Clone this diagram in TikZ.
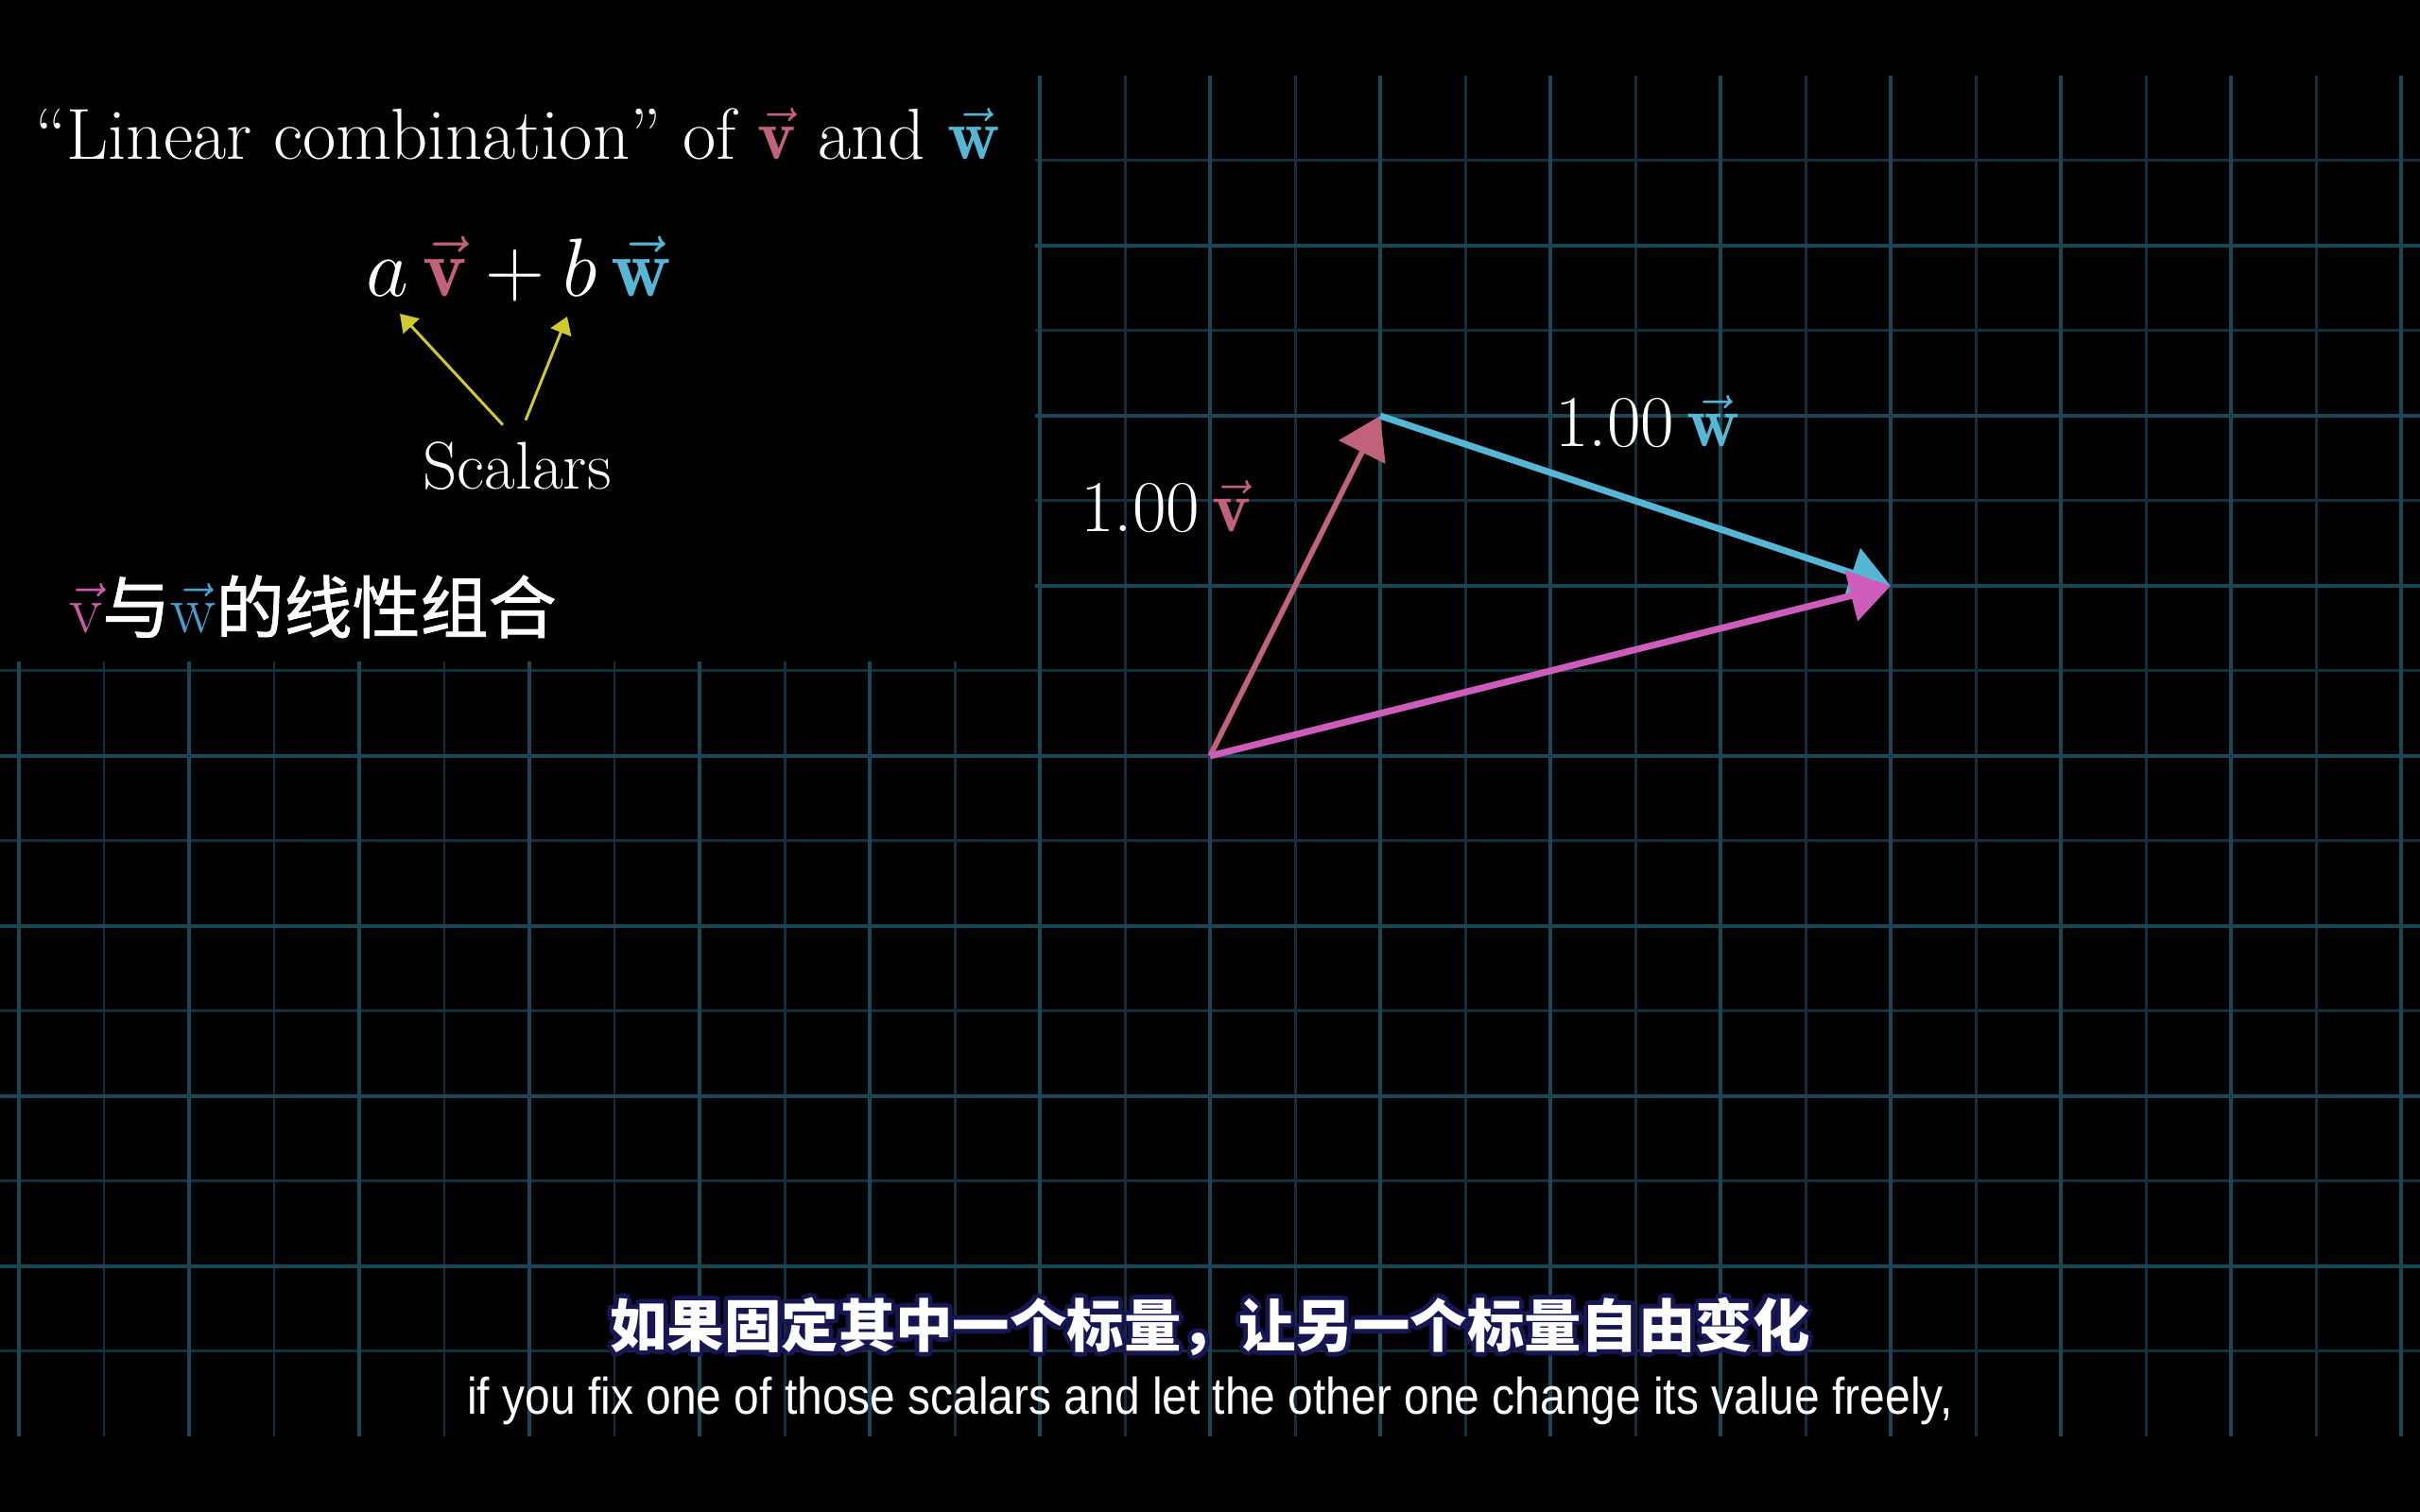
\documentclass[tikz,border=0pt]{standalone}
\usepackage{fontspec}
\usepackage{amsmath}
\usetikzlibrary{arrows.meta,calc}
\newfontfamily\cjk{Noto Sans CJK SC}
\newfontfamily\cjkm[FakeBold=1.2]{Noto Sans CJK SC}
\newfontfamily\subfont{Liberation Sans}
\definecolor{gridmaj}{RGB}{27,70,85}
\definecolor{gridmin}{RGB}{18,49,60}
\definecolor{vcol}{RGB}{193,98,122}
\definecolor{wcol}{RGB}{86,182,214}
\definecolor{scol}{RGB}{206,92,186}
\definecolor{vpink}{RGB}{204,90,172}
\definecolor{wblue}{RGB}{72,158,204}
\definecolor{yarr}{RGB}{208,202,44}
\definecolor{subline}{RGB}{22,22,84}
\newcommand{\vecv}{\textcolor{vcol}{\vec{\mathbf{v}}}}
\newcommand{\vecw}{\textcolor{wcol}{\vec{\mathbf{w}}}}
\newcommand{\subcntext}{如果固定其中一个标量，让另一个标量自由变化}

\begin{document}
\begin{tikzpicture}[line width=0.8pt,
  majline/.style={draw=gridmaj,line width=1.2pt},
  minline/.style={draw=gridmin,line width=0.85pt},
  vecarrow/.style={-{Triangle[length=4.3mm,width=5.4mm]}},
  scalarr/.style={draw=yarr,line width=0.85pt,-{Triangle[length=1.8mm,width=2.3mm]}},
  txt/.style={text=white,inner sep=0pt},
  subcn/.style={inner sep=0pt,font=\cjk\bfseries\fontsize{17.2}{20}\selectfont}]
\useasboundingbox (0,0) rectangle (25.6,16);
\fill[black] (0,0) rectangle (25.6,16);
% ---------- grid: major every 1.8, minor halfway ----------
\begin{scope}
\clip (0,0.8) rectangle (25.6,15.2);
\foreach \i in {-7,...,6}{
  \draw[minline] ({12.8+\i*1.8+0.9},0.8) -- ++(0,14.4);}
\foreach \j in {-4,...,3}{
  \draw[minline] (0,{8+\j*1.8+0.9}) -- ++(25.6,0);}
\foreach \i in {-7,...,7}{
  \draw[majline] ({12.8+\i*1.8},0.8) -- ++(0,14.4);}
\foreach \j in {-3,...,3}{
  \draw[majline] (0,{8+\j*1.8}) -- ++(25.6,0);}
\end{scope}
% ---------- black panel behind the formulas ----------
\fill[black] (0,9.0) rectangle (10.95,15.2);
% ---------- vectors ----------
\coordinate (O) at (12.8,8);
\coordinate (V) at (14.6,11.6);
\coordinate (S) at (20.0,9.8);
\draw[vecarrow,draw=vcol,fill=vcol,line width=1.6pt] (O) -- (V);
\draw[vecarrow,draw=wcol,fill=wcol,line width=2.0pt] (V) -- (S);
\draw[vecarrow,draw=scol,fill=scol,line width=2.0pt] (O) -- (S);
\node[txt,anchor=base west,font=\fontsize{22}{26}\selectfont] (labv) at (11.42,10.37) {1.00\,$\vecv$};
\node[txt,anchor=base west,font=\fontsize{22}{26}\selectfont] (labw) at (16.44,11.27) {1.00\,$\vecw$};
% ---------- formulas, top left ----------
\node[txt,anchor=base west,font=\fontsize{21.8}{26}\selectfont] (title) at (0.36,14.31)
  {``Linear combination'' of $\vecv$ and $\vecw$};
\node[txt,anchor=base,font=\fontsize{25}{30}\selectfont] (combo) at (5.49,12.86)
  {$a\,\vecv+b\,\vecw$};
\node[txt,anchor=base,font=\fontsize{20.3}{24}\selectfont] (scal) at (5.47,10.82) {Scalars};
\coordinate (atip) at (4.23,12.68);
\coordinate (btip) at (6.00,12.65);
\draw[scalarr] ([shift={(-0.15,0.17)}]scal.north) -- (atip);
\draw[scalarr] ([shift={(0.09,0.22)}]scal.north) -- (btip);
\node[txt,anchor=west,font=\cjkm\fontsize{20.5}{24}\selectfont] (cnlab) at (0.72,9.58)
  {\textcolor{vpink}{$\vec{\mathrm{v}}$}与\textcolor{wblue}{$\vec{\mathrm{w}}$}的线性组合};
% ---------- subtitles ----------
\coordinate (subc) at (12.8,1.96);
\foreach \a in {0,45,...,315}{
  \node[subcn,text=subline] (subo\a) at ([shift={(\a:0.05)}]subc) {\subcntext};}
\node[subcn,text=white] (subcn) at (subc) {\subcntext};
\node[txt,anchor=base,font=\subfont\fontsize{15.5}{18}\selectfont] (suben) at (12.8,1.03)
  {\scalebox{0.88}[1]{if you fix one of those scalars and let the other one change its value freely,}};
\end{tikzpicture}
\end{document}
